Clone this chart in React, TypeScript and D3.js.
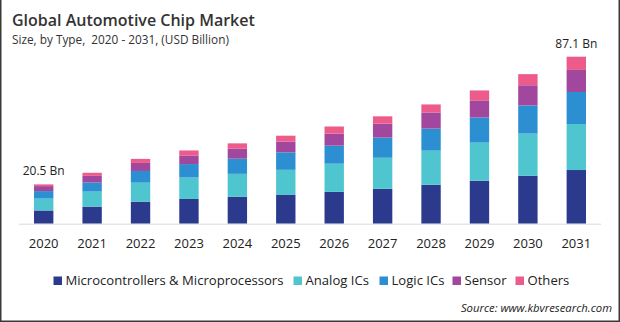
import React from "react";
import * as d3 from "d3";

const years = ["2020","2021","2022","2023","2024","2025","2026","2027","2028","2029","2030","2031"];
const seriesNames = ["Microcontrollers & Microprocessors","Analog ICs","Logic ICs","Sensor","Others"];
const microcontrollers = [6.9, 8.9, 11.5, 12.9, 14.0, 15.0, 16.6, 18.2, 20.3, 22.4, 25.0, 28.0];
const analogICs = [6.2, 7.85, 9.9, 11.2, 12.0, 13.1, 14.7, 16.2, 17.8, 19.9, 22.0, 24.0];
const logicICs = [3.9, 4.7, 6.1, 7.0, 7.9, 9.1, 9.4, 10.5, 11.5, 13.1, 14.7, 16.7];
const sensor = [2.6, 3.5, 4.2, 4.5, 5.2, 5.6, 6.3, 7.3, 8.4, 8.9, 10.5, 11.5];
const others = [0.9, 1.6, 2.1, 2.6, 2.8, 3.1, 3.7, 3.8, 4.2, 5.2, 5.8, 6.9];
const colors = ["#2c3a8e", "#4ec5cf", "#2b8fd2", "#a2479e", "#ec5b8a"];
const endLabels = [{ year: "2020", text: "20.5 Bn", value: 20.5 }, { year: "2031", text: "87.1 Bn", value: 87.1 }];

const W = 620, H = 322;
const FONT = "'Open Sans', 'Noto Sans', sans-serif";

export default function App() {
  const seriesArrays = [microcontrollers, analogICs, logicICs, sensor, others];
  const table = years.map((y, i) => {
    const row: any = { year: y };
    seriesNames.forEach((s, k) => (row[s] = seriesArrays[k][i]));
    return row;
  });
  const stacked = d3.stack<any>().keys(seriesNames)(table);

  const x = d3.scaleBand<string>().domain(years).range([19, 601]).paddingInner(0.6).paddingOuter(0.31);
  const y = d3.scaleLinear().domain([0, 87.1]).range([223.7, 56.7]);

  const legendItems = [
    { name: seriesNames[0], sq: 53.5 },
    { name: seriesNames[1], sq: 293.5 },
    { name: seriesNames[2], sq: 379.5 },
    { name: seriesNames[3], sq: 452.5 },
    { name: seriesNames[4], sq: 515.5 },
  ];

  return (
    <svg width={W} height={H} style={{ position: "absolute", left: 0, top: 0, background: "#fff" }} fontFamily={FONT}>
      <rect x={0} y={0} width={W} height={H} fill="#fff" />
      <path d={`M0.75,0V${H - 0.75}H${W - 0.75}V0`} fill="none" stroke="#3a3a3a" strokeWidth={1.5} />
      <text x={12} y={26} fontSize={16} fontWeight={600} fill="#333">Global Automotive Chip Market</text>
      <text x={12} y={44.3} fontSize={11.8} fill="#333" style={{ whiteSpace: "pre" }}>{"Size, by Type,  2020 - 2031, (USD Billion)"}</text>

      {stacked.map((layer, k) => (
        <g key={layer.key} fill={colors[k]}>
          {layer.map((d, i) => (
            <rect key={i} x={x(years[i])} width={x.bandwidth()} y={y(d[1])} height={y(d[0]) - y(d[1])} />
          ))}
        </g>
      ))}

      <line x1={19} x2={601} y1={224.2} y2={224.2} stroke="#d9d9d9" strokeWidth={1} />

      {years.map((yr) => (
        <text key={yr} x={(x(yr) as number) + x.bandwidth() / 2} y={248.3} textAnchor="middle" fontSize={13} fill="#222">{yr}</text>
      ))}

      {endLabels.map((l) => (
        <text key={l.year} x={(x(l.year) as number) + x.bandwidth() / 2} y={y(l.value) - 9} textAnchor="middle" fontSize={12} fill="#222">{l.text}</text>
      ))}

      {legendItems.map((it, k) => (
        <g key={it.name}>
          <rect x={it.sq} y={276.5} width={8.5} height={8.5} fill={colors[k]} />
          <text x={it.sq + 12} y={285} fontSize={13.1} fill="#222">{it.name}</text>
        </g>
      ))}

      <text x={612} y={311.5} textAnchor="end" fontSize={11.3} fontStyle="italic" fill="#222">Source: www.kbvresearch.com</text>
    </svg>
  );
}
